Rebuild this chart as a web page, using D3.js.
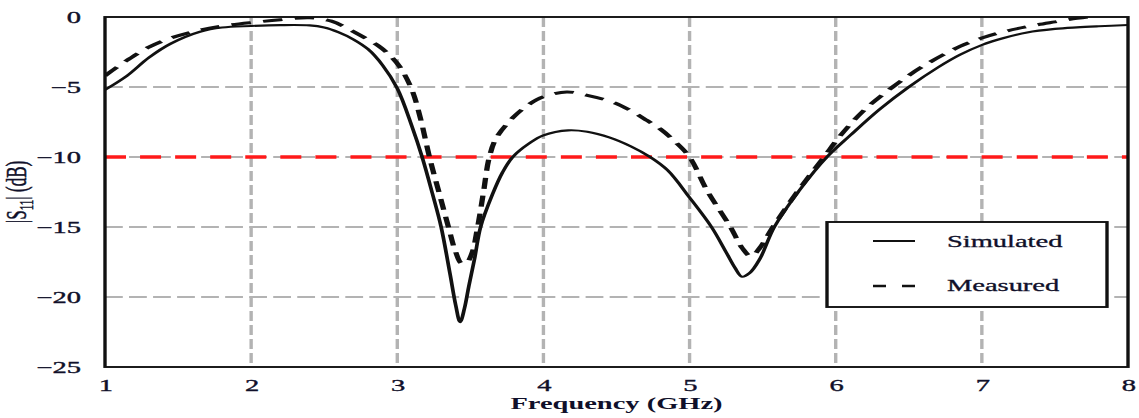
<!DOCTYPE html>
<html><head><meta charset="utf-8">
<script src="https://cdn.jsdelivr.net/npm/d3@7"></script>
<style>html,body{margin:0;padding:0;background:#fff;overflow:hidden}</style>
</head><body><div id="chart"></div>
<script>
// ---- data ----
const freqSim = [1.0,1.15,1.3,1.45,1.65,1.8,2.0,2.2,2.4,2.5,2.6,2.7,2.8,2.9,3.0,3.1,3.17,3.24,3.3,3.36,3.4,3.43,3.46,3.49,3.53,3.57,3.65,3.72,3.79,3.9,4.0,4.17,4.3,4.45,4.6,4.73,4.85,5.0,5.15,5.25,5.31,5.36,5.41,5.48,5.58,5.75,5.94,6.1,6.3,6.5,6.7,6.85,7.0,7.15,7.31,7.5,7.65,7.8,8.0];
const s11Sim  = [-5.2,-4.2,-2.9,-1.9,-1.05,-0.75,-0.64,-0.58,-0.6,-0.75,-1.1,-1.6,-2.3,-3.45,-5.1,-7.8,-10.0,-12.6,-15.0,-18.3,-20.6,-21.8,-20.8,-19.2,-17.2,-15.0,-12.7,-11.1,-10.0,-9.05,-8.45,-8.1,-8.2,-8.6,-9.25,-10.0,-10.95,-12.9,-15.0,-16.8,-17.9,-18.55,-18.3,-17.3,-15.0,-12.4,-10.0,-8.45,-6.6,-5.0,-3.6,-2.7,-2.0,-1.5,-1.1,-0.85,-0.74,-0.66,-0.57];
const freqMeas = [1.0,1.15,1.3,1.45,1.65,1.8,2.0,2.2,2.4,2.55,2.68,2.78,2.87,2.95,3.02,3.1,3.16,3.22,3.29,3.35,3.4,3.44,3.47,3.51,3.55,3.59,3.63,3.68,3.79,3.9,4.0,4.16,4.3,4.48,4.6,4.71,4.8,4.9,5.0,5.12,5.28,5.36,5.42,5.48,5.57,5.75,5.92,6.03,6.2,6.39,6.6,6.85,7.0,7.15,7.31,7.5,7.65,7.8,8.0];
const s11Meas  = [-4.2,-3.1,-2.15,-1.5,-0.93,-0.65,-0.4,-0.2,-0.05,-0.3,-0.93,-1.5,-2.05,-2.75,-3.6,-5.2,-7.3,-10.0,-12.7,-15.0,-16.8,-17.6,-17.6,-16.9,-15.0,-12.5,-10.0,-8.6,-7.2,-6.25,-5.7,-5.35,-5.6,-6.1,-6.7,-7.4,-8.0,-8.9,-10.0,-12.4,-15.0,-16.5,-17.1,-16.5,-15.0,-12.3,-10.0,-8.5,-6.6,-5.0,-3.5,-2.1,-1.5,-1.05,-0.69,-0.35,-0.1,0.1,0.3];
const xTicks = [1,2,3,4,5,6,7,8];
const yTicks = [0,-5,-10,-15,-20,-25];
const thresholdDb = -10;
const seriesNames = ["Simulated","Measured"];

// ---- layout ----
const W = 1139, H = 418, SX = 1.78, VW = W / SX;
const svg = d3.select('#chart').append('svg')
  .attr('width', W).attr('height', H)
  .attr('viewBox', `0 0 ${VW} ${H}`)
  .attr('preserveAspectRatio', 'none')
  .style('display','block');

const L = 105 / SX, R = 1128 / SX, T = 17, B = 367;
const x = d3.scaleLinear().domain([1, 8]).range([L, R]);
const y = d3.scaleLinear().domain([-25, 0]).range([B, T]);
const FONT = '"Liberation Serif","Times New Roman",serif';
const TXT = '#10102a';

svg.append('defs').append('clipPath').attr('id','clip')
  .append('rect').attr('x', L).attr('y', T).attr('width', R - L).attr('height', B - T);

// grid
const grid = svg.append('g').attr('stroke', '#b3b3b3').attr('stroke-width', 1.9).attr('fill','none');
grid.selectAll('line.h').data(yTicks.filter(d => d > -25 && d < 0)).join('line')
  .attr('class','h').attr('x1', L).attr('x2', R).attr('y1', d => y(d)).attr('y2', d => y(d))
  .attr('stroke-dasharray', '10,3.5');
grid.selectAll('line.v').data(xTicks.filter(d => d > 1 && d < 8)).join('line')
  .attr('class','v').attr('x1', d => x(d)).attr('x2', d => x(d)).attr('y1', T).attr('y2', B)
  .attr('stroke-dasharray', '10,4');

// threshold
svg.append('line').attr('x1', L).attr('x2', R).attr('y1', y(thresholdDb)).attr('y2', y(thresholdDb))
  .attr('stroke', '#ff1a1a').attr('stroke-width', 3.6).attr('stroke-dasharray', '11.8,7.9');

// curves
const line = d3.line().x(d => x(d[0])).y(d => y(d[1])).curve(d3.curveCatmullRom.alpha(0.5));
const simData = freqSim.map((f, i) => [f, s11Sim[i]]);
const measData = freqMeas.map((f, i) => [f, s11Meas[i]]);
const cg = svg.append('g').attr('clip-path', 'url(#clip)').attr('fill','none');
cg.append('path').datum(simData).attr('d', line).attr('stroke', '#111').attr('stroke-width', 2.1);
cg.append('path').datum(measData).attr('d', line).attr('stroke', '#111').attr('stroke-width', 3)
  .attr('stroke-dasharray', '11,7');

// frame
svg.append('rect').attr('x', L).attr('y', T).attr('width', R - L).attr('height', B - T)
  .attr('fill','none').attr('stroke','#111').attr('stroke-width', 1.9);

// axes (labels only)
const ax = svg.append('g').attr('transform', `translate(0,${B})`)
  .call(d3.axisBottom(x).tickValues(xTicks).tickFormat(d3.format('d')).tickSize(0).tickPadding(12.6));
const ay = svg.append('g').attr('transform', `translate(${L},0)`)
  .call(d3.axisLeft(y).tickValues(yTicks).tickFormat(d3.format('d')).tickSize(0).tickPadding(13.5));
[ax, ay].forEach(g => {
  g.select('.domain').remove();
  g.selectAll('text').attr('font-family', FONT).attr('font-size', 16).attr('fill', TXT)
    .attr('stroke', TXT).attr('stroke-width', 0.35);
});

// axis titles
svg.append('text').attr('x', (L + R) / 2).attr('y', 409).attr('text-anchor','middle')
  .attr('font-family', FONT).attr('font-size', 16).attr('font-weight','bold').attr('fill', TXT)
  .text('Frequency (GHz)');
const yl = svg.append('text').attr('transform', `translate(${26 / SX},${192}) rotate(-90)`)
  .attr('text-anchor','middle').attr('font-family', FONT).attr('font-size', 17).attr('fill', TXT)
  .attr('stroke', TXT).attr('stroke-width', 0.3);
yl.append('tspan').text('|S');
yl.append('tspan').attr('font-size', 11).attr('dy', 4).text('11');
yl.append('tspan').attr('dy', -4).text('| (dB)');

// legend
const lg = svg.append('g');
lg.append('rect').attr('x', 827 / SX).attr('y', 222).attr('width', (1107 - 827) / SX).attr('height', 85)
  .attr('fill','#fff').attr('stroke','#111').attr('stroke-width', 1.9);
const items = [{name: seriesNames[0], dash: null, w: 2.1, ly: 241, ty: 247},
               {name: seriesNames[1], dash: '7.3,9', w: 2.6, ly: 286, ty: 291}];
items.forEach(it => {
  lg.append('line').attr('x1', 873 / SX).attr('x2', 915 / SX).attr('y1', it.ly).attr('y2', it.ly)
    .attr('stroke','#111').attr('stroke-width', it.w).attr('stroke-dasharray', it.dash);
  lg.append('text').attr('x', 947 / SX).attr('y', it.ty).attr('font-family', FONT).attr('font-size', 16)
    .attr('fill', TXT).attr('stroke', TXT).attr('stroke-width', 0.3).text(it.name);
});
</script>
</body></html>
